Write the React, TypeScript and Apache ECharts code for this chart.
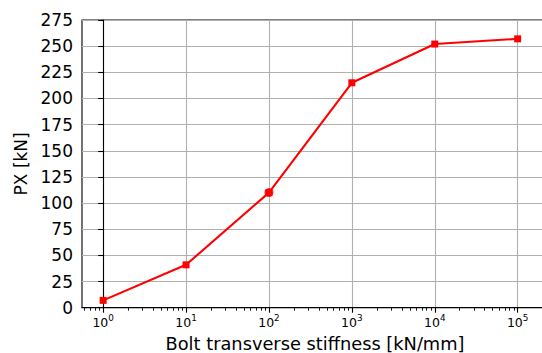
import React, { useEffect, useRef } from "react";
import * as echarts from "echarts";

// Bolt transverse stiffness [kN/mm] and resulting PX [kN]
const stiffness = [1, 10, 100, 1000, 10000, 100000];
const px = [7, 41, 110, 215, 252, 257];
// highlighted reference case
const refStiffness = [100];
const refPx = [110];
// decade exponents labelled on the x axis
const decades = [0, 1, 2, 3, 4, 5];
const yTicks = { min: 0, max: 275, step: 25 };

const FONT = "DejaVu Sans";
const X_MIN = -0.255;
const X_MAX = 5.366;

export default function App() {
  const ref = useRef<HTMLDivElement>(null);

  useEffect(() => {
    if (!ref.current) return;
    const chart = echarts.init(ref.current, undefined, { renderer: "svg" });

    const minorTicks: number[] = [];
    for (let d = -1; d <= 5; d++) {
      for (let m = 2; m <= 9; m++) {
        const v = Math.log10(m * Math.pow(10, d));
        if (v > X_MIN && v < X_MAX) minorTicks.push(v);
      }
    }

    const mainData = stiffness.map((s, i) => [Math.log10(s), px[i]]);
    const refData = refStiffness.map((s, i) => [Math.log10(s), refPx[i]]);

    chart.setOption({
      animation: false,
      backgroundColor: "#ffffff",
      textStyle: { fontFamily: FONT },
      grid: {
        left: 82,
        top: 20,
        right: -6,
        bottom: 45.3,
        containLabel: false,
        outerBoundsMode: "none",
        show: true,
        borderColor: "#000000",
        borderWidth: 1.1,
        backgroundColor: "transparent",
      },
      xAxis: [
        {
          type: "value",
          min: X_MIN,
          max: X_MAX,
          name: "Bolt transverse stiffness [kN/mm]",
          nameLocation: "middle",
          nameGap: 27,
          nameTextStyle: { fontSize: 17.8, color: "#000", fontFamily: FONT },
          axisLine: { show: true, onZero: false, lineStyle: { color: "#000", width: 1.1 } },
          axisTick: {
            show: true,
            customValues: decades,
            length: 5,
            lineStyle: { color: "#000", width: 1.1 },
          },
          axisLabel: {
            customValues: decades,
            margin: 6,
            color: "#000",
            fontFamily: FONT,
            formatter: (v: number) => `{b|10}{s|${Math.round(v)}}`,
            rich: {
              b: { fontSize: 12.5, fontFamily: FONT, color: "#000" },
              s: { fontSize: 8.8, fontFamily: FONT, color: "#000", padding: [0, 0, 8, 0] },
            },
          },
          splitLine: { show: true, lineStyle: { color: "#b0b0b0", width: 1.1 } },
        },
        {
          type: "value",
          min: X_MIN,
          max: X_MAX,
          position: "bottom",
          axisLine: { show: false },
          axisTick: {
            show: true,
            customValues: minorTicks,
            length: 3,
            lineStyle: { color: "#000", width: 0.9 },
          },
          axisLabel: { show: false },
          splitLine: { show: false },
        },
      ],
      yAxis: {
        type: "value",
        min: yTicks.min,
        max: yTicks.max,
        interval: yTicks.step,
        name: "PX [kN]",
        nameLocation: "middle",
        nameRotate: 90,
        nameGap: 50,
        nameTextStyle: { fontSize: 17, color: "#000", fontFamily: FONT },
        axisLine: { show: true, lineStyle: { color: "#000", width: 1.1 } },
        axisTick: { show: true, length: 5, lineStyle: { color: "#000", width: 1.1 } },
        axisLabel: { fontSize: 17, color: "#000", margin: 9, fontFamily: FONT },
        splitLine: { show: true, lineStyle: { color: "#b0b0b0", width: 1.1 } },
      },
      series: [
        {
          type: "line",
          data: mainData,
          symbol: "rect",
          symbolSize: 7,
          itemStyle: { color: "#ff0000" },
          lineStyle: { color: "#ff0000", width: 2.1 },
          z: 3,
        },
        {
          type: "scatter",
          data: refData,
          symbol: "circle",
          symbolSize: 9,
          itemStyle: { color: "#ff0000" },
          z: 4,
        },
      ],
    });

    return () => chart.dispose();
  }, []);

  return (
    <div
      ref={ref}
      style={{ position: "fixed", left: 0, top: 0, width: 542, height: 353 }}
    />
  );
}
